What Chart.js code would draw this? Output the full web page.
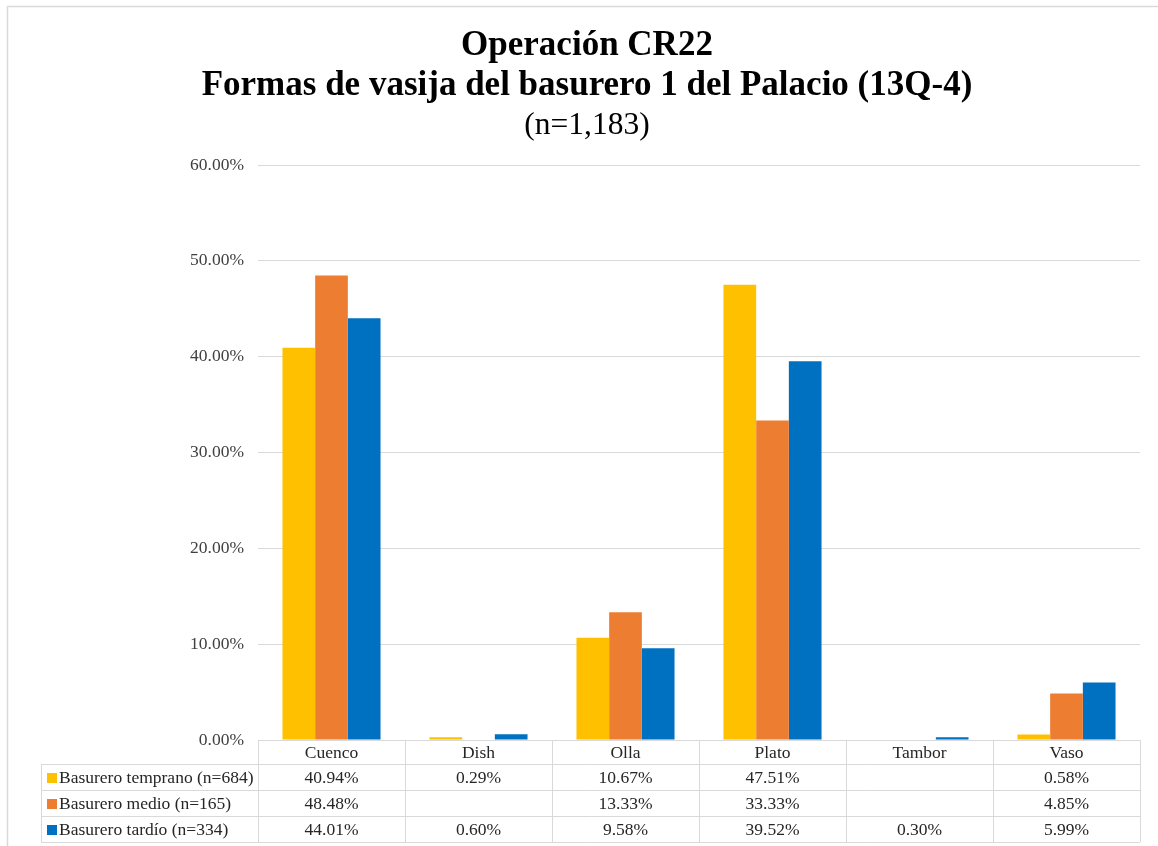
<!DOCTYPE html>
<html>
<head>
<meta charset="utf-8">
<title>Formas de vasija - basurero 1</title>
<script src="https://cdn.jsdelivr.net/npm/chart.js@4.4.1/dist/chart.umd.min.js"></script>
<style>
    html, body { margin: 0; padding: 0; background: #fff; }
    #wrap { width: 1158px; height: 846px; }
</style>
</head>
<body>
<div id="wrap"><canvas id="vasijaChart" width="1158" height="846"></canvas></div>
<script>
// ========== DATA ==========
const CATEGORIES = ['Cuenco', 'Dish', 'Olla', 'Plato', 'Tambor', 'Vaso'];
const SERIES_NAMES = ['Basurero temprano (n=684)', 'Basurero medio (n=165)', 'Basurero tardío (n=334)'];
const TEMPRANO = [40.94, 0.29, 10.67, 47.51, null, 0.58];
const MEDIO = [48.48, null, 13.33, 33.33, null, 4.85];
const TARDIO = [44.01, 0.60, 9.58, 39.52, 0.30, 5.99];
const Y_TICKS = [0, 10, 20, 30, 40, 50, 60];
const TITLE_LINES = ['Operación CR22', 'Formas de vasija del basurero 1 del Palacio (13Q-4)', '(n=1,183)'];

const COLORS = ['#FFC000', '#ED7D31', '#0070C0'];
const SERIF = '"Liberation Serif", "Times New Roman", serif';
const LINE_GREY = '#d9d9d9';
const TEXT = '#262626';
const TABLE_FONT = '17.5px ' + SERIF;

const pct = v => v.toFixed(2) + '%';

// ========== PLUGINS ==========
// frame + heading (three centred lines, last one not bold)
const headingPlugin = {
    id: 'heading',
    beforeDraw(chart) {
        const ctx = chart.ctx;
        ctx.save();
        ctx.strokeStyle = LINE_GREY;
        ctx.lineWidth = 1.5;
        ctx.beginPath();
        ctx.moveTo(7.5, chart.height);
        ctx.lineTo(7.5, 6.5);
        ctx.lineTo(chart.width, 6.5);
        ctx.stroke();
        ctx.restore();
    },
    afterDraw(chart) {
        const ctx = chart.ctx;
        const cx = 587;
        ctx.save();
        ctx.fillStyle = '#000';
        ctx.textAlign = 'center';
        ctx.textBaseline = 'alphabetic';
        ctx.font = 'bold 35px ' + SERIF;
        ctx.fillText(TITLE_LINES[0], cx, 55);
        ctx.fillText(TITLE_LINES[1], cx, 95);
        ctx.font = '31.5px ' + SERIF;
        ctx.fillText(TITLE_LINES[2], cx, 134);
        ctx.restore();
    }
};

// data table under the x axis, columns taken from the x scale
const dataTablePlugin = {
    id: 'dataTable',
    afterDraw(chart) {
        const ctx = chart.ctx;
        const x = chart.scales.x;
        const area = chart.chartArea;
        const step = (area.right - area.left) / CATEGORIES.length;
        const tableLeft = 41;
        const headTop = area.bottom;
        const headH = 24;
        const rowH = 26;
        const rowsTop = headTop + headH;
        const bottom = rowsTop + rowH * SERIES_NAMES.length;

        ctx.save();
        ctx.strokeStyle = LINE_GREY;
        ctx.lineWidth = 1;
        ctx.beginPath();
        // horizontal rules
        ctx.moveTo(area.left, headTop + 0.5);
        ctx.lineTo(area.right, headTop + 0.5);
        for (let r = 0; r <= SERIES_NAMES.length; r++) {
            const y = Math.round(rowsTop + r * rowH) + 0.5;
            ctx.moveTo(tableLeft, y);
            ctx.lineTo(area.right, y);
        }
        // vertical rules
        ctx.moveTo(tableLeft + 0.5, rowsTop);
        ctx.lineTo(tableLeft + 0.5, bottom);
        for (let c = 0; c <= CATEGORIES.length; c++) {
            const vx = Math.round(area.left + c * step) + 0.5;
            ctx.moveTo(vx, headTop);
            ctx.lineTo(vx, bottom);
        }
        ctx.stroke();

        ctx.font = TABLE_FONT;
        ctx.fillStyle = TEXT;
        ctx.textBaseline = 'middle';
        ctx.textAlign = 'center';
        CATEGORIES.forEach((cat, i) => {
            ctx.fillText(cat, x.getPixelForValue(i), headTop + headH / 2 + 1);
        });

        const series = chart.data.datasets;
        series.forEach((ds, r) => {
            const cy = rowsTop + r * rowH + rowH / 2 + 1;
            ctx.fillStyle = ds.backgroundColor;
            ctx.fillRect(tableLeft + 6, cy - 5, 10, 10);
            ctx.fillStyle = TEXT;
            ctx.textAlign = 'left';
            ctx.fillText(ds.label, tableLeft + 18, cy);
            ctx.textAlign = 'center';
            ds.data.forEach((v, i) => {
                if (v == null) return;
                ctx.fillText(pct(v), x.getPixelForValue(i), cy);
            });
        });
        ctx.restore();
    }
};

// ========== CHART ==========
function initChart() {
    const ctx = document.getElementById('vasijaChart');
    const values = [TEMPRANO, MEDIO, TARDIO];

    new Chart(ctx, {
        type: 'bar',
        data: {
            labels: CATEGORIES,
            datasets: SERIES_NAMES.map((name, i) => ({
                label: name,
                data: values[i],
                backgroundColor: COLORS[i],
                borderWidth: 0,
                categoryPercentage: 0.667,
                barPercentage: 1.0
            }))
        },
        options: {
            responsive: false,
            animation: false,
            layout: { padding: { top: 165, bottom: 106, left: 0, right: 18 } },
            plugins: {
                legend: { display: false },
                title: { display: false },
                tooltip: { enabled: false }
            },
            scales: {
                x: { display: false },
                y: {
                    min: Y_TICKS[0],
                    max: Y_TICKS[Y_TICKS.length - 1],
                    afterBuildTicks: scale => { scale.ticks = Y_TICKS.map(v => ({ value: v })); },
                    afterFit: scale => { scale.width = 258; },
                    border: { display: false },
                    grid: { color: LINE_GREY, lineWidth: 1, drawTicks: false },
                    ticks: {
                        padding: 14,
                        color: '#404040',
                        font: { family: SERIF, size: 17.5 },
                        callback: v => pct(v)
                    }
                }
            }
        },
        plugins: [headingPlugin, dataTablePlugin]
    });
}

document.addEventListener('DOMContentLoaded', initChart);
</script>
</body>
</html>
